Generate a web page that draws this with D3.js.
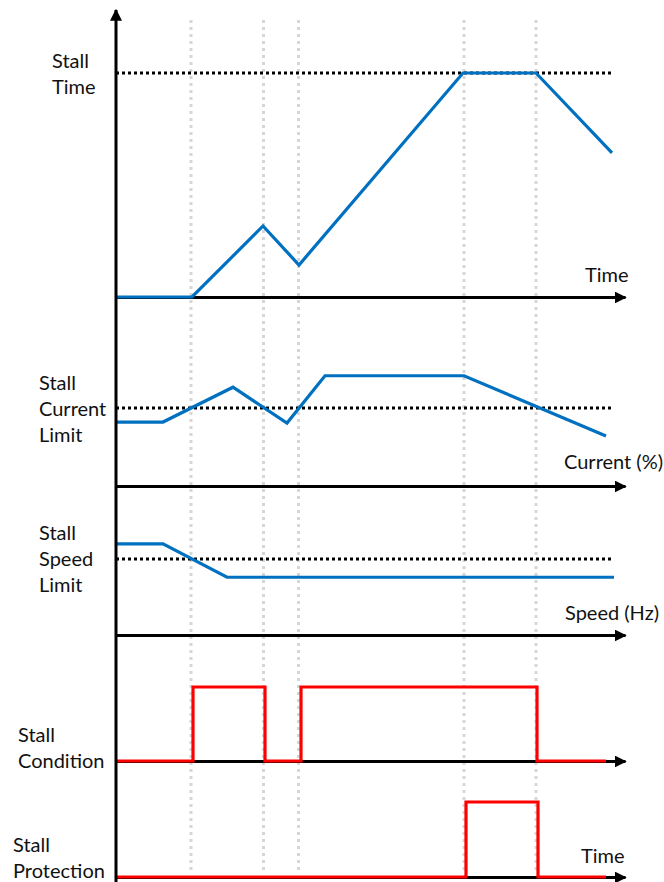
<!DOCTYPE html>
<html><head><meta charset="utf-8">
<script src="https://cdn.jsdelivr.net/npm/d3@7"></script>
<style>body{margin:0;background:#fff}svg{display:block}text{font-family:Lato,"Open Sans",sans-serif;font-size:20px;fill:#111}</style>
</head><body><div id="chart"></div>
<script>
// ---- data (time in arbitrary units) ----
const eventTimes = [15, 29.5, 36.5, 69.6, 84];
const stallTimeT = [0, 15.2, 29.4, 36.6, 69.4, 84, 99.2];
const stallTimeV = [0, 0, 31.7, 14.3, 100, 100, 64.3];
const stallTimeLimit = 100;
const currentT = [0, 9.4, 23.4, 34.2, 41.8, 69.6, 98];
const currentV = [123, 123, 190, 121, 212, 212, 96];
const currentLimit = 150;
const speedT = [0, 9.4, 22.2, 99.6];
const speedV = [6, 6, 3.8, 3.8];
const speedLimit = 5;
const condT = [0, 15.4, 29.8, 37, 84.2, 98];
const condV = [0, 1, 0, 1, 0, 0];
const protT = [0, 70, 84.4, 98];
const protV = [0, 1, 0, 0];
const labelsTime = ["Stall", "Time"];
const labelsCurrent = ["Stall", "Current", "Limit"];
const labelsSpeed = ["Stall", "Speed", "Limit"];
const labelsCond = ["Stall", "Condition"];
const labelsProt = ["Stall", "Protection"];
const axisNames = ["Time", "Current (%)", "Speed (Hz)", "", "Time"];

const W = 664, H = 882;
const svg = d3.select("#chart").append("svg").attr("width", W).attr("height", H);
const defs = svg.append("defs");
defs.append("marker").attr("id","arr").attr("viewBox","0 0 10 10").attr("refX",9).attr("refY",5)
  .attr("markerWidth",4).attr("markerHeight",4).attr("markerUnits","strokeWidth").attr("orient","auto")
  .append("path").attr("d","M0,0L10,5L0,10Z").attr("fill","#000");

const x = d3.scaleLinear().domain([0, 100]).range([116, 616]);
const tEnd = 101.8;
const tLimitEnd = 99.6;

// event guide lines
svg.append("g").selectAll("line").data(eventTimes).join("line")
  .attr("x1", d => x(d)).attr("x2", d => x(d)).attr("y1", 20).attr("y2", 872)
  .attr("stroke", "#d6d6d6").attr("stroke-width", 3).attr("stroke-dasharray", "3,4");

const panels = [
  {T: stallTimeT, V: stallTimeV, lim: stallTimeLimit, dom: [0, 100], rng: [297, 73], labels: labelsTime, lx: 52, ly: 68, color: "#0070C0", step: false, name: axisNames[0], nx: 585, ny: 282},
  {T: currentT, V: currentV, lim: currentLimit, dom: [0, 150], rng: [486, 408], labels: labelsCurrent, lx: 39, ly: 390, color: "#0070C0", step: false, name: axisNames[1], nx: 564, ny: 469},
  {T: speedT, V: speedV, lim: speedLimit, dom: [0, 5], rng: [635, 559], labels: labelsSpeed, lx: 39, ly: 540, color: "#0070C0", step: false, name: axisNames[2], nx: 565, ny: 620},
  {T: condT, V: condV, lim: null, dom: [0, 1], rng: [761, 687], labels: labelsCond, lx: 18, ly: 742, color: "#FF0000", step: true, name: axisNames[3], nx: 0, ny: 0},
  {T: protT, V: protV, lim: null, dom: [0, 1], rng: [877, 802], labels: labelsProt, lx: 13, ly: 852, color: "#FF0000", step: true, name: axisNames[4], nx: 581, ny: 863}
];

panels.forEach(p => {
  const y = d3.scaleLinear().domain(p.dom).range(p.rng);
  const g = svg.append("g");
  // horizontal axis
  const axScale = d3.scaleLinear().domain([0, tEnd]).range([x(0), x(tEnd)]);
  const ax = g.append("g").attr("transform", `translate(0,${y(0)})`)
    .call(d3.axisBottom(axScale).tickValues([]).tickSizeOuter(0));
  ax.select(".domain").attr("stroke", "#000").attr("stroke-width", 3).attr("marker-end", "url(#arr)");
  // limit
  if (p.lim !== null) {
    g.append("line").attr("x1", x(0)).attr("x2", x(tLimitEnd)).attr("y1", y(p.lim)).attr("y2", y(p.lim))
      .attr("stroke", "#000").attr("stroke-width", 3).attr("stroke-dasharray", "3,3");
  }
  const pts = p.T.map((t, i) => [t, p.V[i]]);
  const line = d3.line().x(d => x(d[0])).y(d => y(d[1])).curve(p.step ? d3.curveStepAfter : d3.curveLinear);
  g.append("path").attr("d", line(pts)).attr("fill", "none").attr("stroke", p.color)
    .attr("stroke-width", 3.2).attr("stroke-linejoin", "miter");
  // labels
  g.append("text").attr("x", p.lx).attr("y", p.ly).selectAll("tspan").data(p.labels).join("tspan")
    .attr("x", p.lx).attr("dy", (d, i) => i === 0 ? 0 : 26).text(d => d);
  if (p.name) g.append("text").attr("x", p.nx).attr("y", p.ny).text(p.name);
});

// vertical axis
svg.append("line").attr("x1", 116).attr("x2", 116).attr("y1", 884).attr("y2", 10)
  .attr("stroke", "#000").attr("stroke-width", 3).attr("marker-end", "url(#arr)");
</script></body></html>
